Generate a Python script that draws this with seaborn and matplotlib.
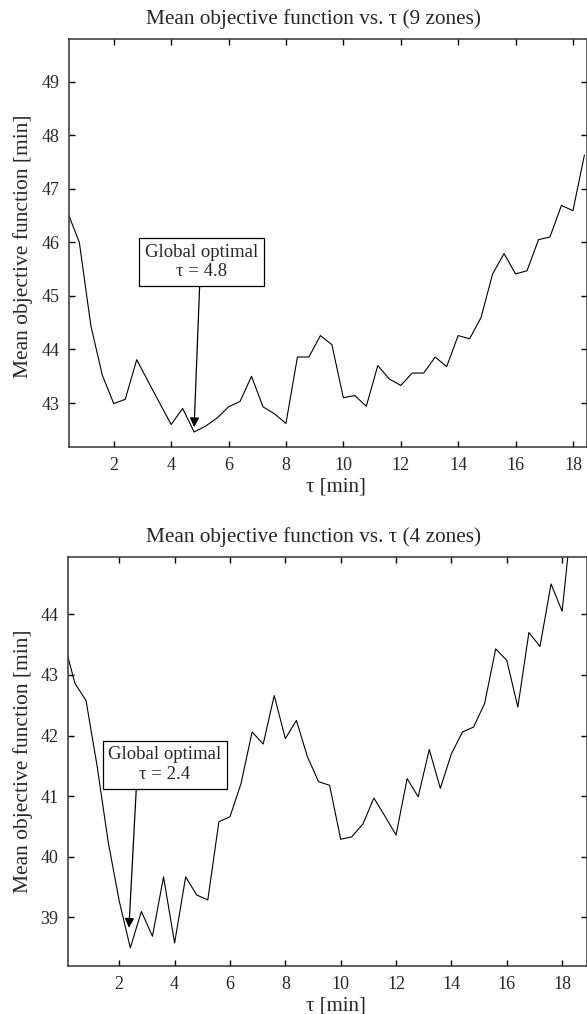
import pandas as pd
import seaborn as sns
import matplotlib.pyplot as plt

# tau grid (min) and mean objective values
tau_9 = [0.4, 0.8, 1.2, 1.6, 2.0, 2.4, 2.8, 3.2, 3.6, 4.0, 4.4, 4.8, 5.2, 5.6, 6.0, 6.4,
         6.8, 7.2, 7.6, 8.0, 8.4, 8.8, 9.2, 9.6, 10.0, 10.4, 10.8, 11.2, 11.6, 12.0, 12.4,
         12.8, 13.2, 13.6, 14.0, 14.4, 14.8, 15.2, 15.6, 16.0, 16.4, 16.8, 17.2, 17.6, 18.0, 18.4]
obj_9 = [46.55, 46.0, 44.45, 43.52, 42.99, 43.07, 43.81, 43.4, 43.0, 42.6, 42.9, 42.46,
         42.57, 42.72, 42.93, 43.03, 43.5, 42.93, 42.8, 42.62, 43.86, 43.86, 44.26, 44.09,
         43.1, 43.14, 42.94, 43.7, 43.45, 43.33, 43.56, 43.56, 43.86, 43.68, 44.26, 44.2,
         44.6, 45.41, 45.79, 45.41, 45.47, 46.05, 46.1, 46.69, 46.59, 47.63]

tau_4 = [0.0, 0.4, 0.8, 1.2, 1.6, 2.0, 2.4, 2.8, 3.2, 3.6, 4.0, 4.4, 4.8, 5.2, 5.6, 6.0,
         6.4, 6.8, 7.2, 7.6, 8.0, 8.4, 8.8, 9.2, 9.6, 10.0, 10.4, 10.8, 11.2, 11.6, 12.0,
         12.4, 12.8, 13.2, 13.6, 14.0, 14.4, 14.8, 15.2, 15.6, 16.0, 16.4, 16.8, 17.2, 17.6,
         18.0, 18.4]
obj_4 = [43.55, 42.86, 42.58, 41.5, 40.25, 39.27, 38.5, 39.1, 38.69, 39.67, 38.58, 39.67,
         39.37, 39.29, 40.58, 40.66, 41.21, 42.06, 41.86, 42.66, 41.95, 42.25, 41.65, 41.24,
         41.18, 40.29, 40.33, 40.54, 40.97, 40.67, 40.36, 41.29, 40.99, 41.77, 41.13, 41.70,
         42.06, 42.14, 42.53, 43.43, 43.24, 42.47, 43.70, 43.47, 44.50, 44.05, 45.8]

titles = ['Mean objective function vs. \u03c4 (9 zones)',
          'Mean objective function vs. \u03c4 (4 zones)']
opt_tau = [4.8, 2.4]

sns.set_style('ticks')
plt.rcParams['font.family'] = ['Liberation Serif', 'DejaVu Serif']
plt.rcParams['axes.linewidth'] = 1.1
plt.rcParams['axes.edgecolor'] = '#333333'

W, H = 587, 1014
fig = plt.figure(figsize=(W / 100, H / 100), dpi=100)
ax1 = fig.add_axes([69 / W, 1 - 447 / H, (587 - 69) / W, (447 - 39.3) / H])
ax2 = fig.add_axes([68.3 / W, 1 - 966 / H, (586.5 - 68.3) / W, (966 - 557.3) / H])

df9 = pd.DataFrame({'tau': tau_9, 'obj': obj_9})
df4 = pd.DataFrame({'tau': tau_4, 'obj': obj_4})

sns.lineplot(data=df9, x='tau', y='obj', ax=ax1, color='black', lw=0.8)
sns.lineplot(data=df4, x='tau', y='obj', ax=ax2, color='black', lw=0.8)

ax1.set_xlim(0.44, 18.49)
ax1.set_ylim(42.18, 49.79)
ax1.set_yticks([43, 44, 45, 46, 47, 48, 49])
ax2.set_xlim(0.16, 18.88)
ax2.set_ylim(38.2, 44.94)
ax2.set_yticks([39, 40, 41, 42, 43, 44])

for ax in (ax1, ax2):
    ax.set_xticks(range(2, 19, 2))
    ax.tick_params(direction='in', top=True, right=True, length=4, width=1,
                   color='black', labelsize=13, pad=7)
    ax.set_xlabel('')
    ax.set_ylabel('')
    for s in ax.spines.values():
        s.set_visible(True)

# annotation boxes and arrows (arrow drawn below the box)
box = dict(boxstyle='square,pad=0.3', fc='white', ec='black', lw=0.9)
arrow = dict(arrowstyle='-|>', color='black', lw=0.9, mutation_scale=14, shrinkA=0, shrinkB=0)
ax1.annotate('', xy=(opt_tau[0], 42.55), xytext=(5.0, 45.3), arrowprops=arrow, zorder=3)
ax1.text(5.06, 45.63, 'Global optimal\n\u03c4 = %.1f' % opt_tau[0], ha='center', va='center',
         fontsize=13.5, bbox=box, zorder=5)
ax2.annotate('', xy=(2.35, 38.83), xytext=(2.63, 41.25), arrowprops=arrow, zorder=3)
ax2.text(3.65, 41.52, 'Global optimal\n\u03c4 = %.1f' % opt_tau[1], ha='center', va='center',
         fontsize=13.5, bbox=box, zorder=5)

# titles, x labels and y labels placed in figure pixels
fig.text(313.5 / W, 1 - 18.7 / H, titles[0], ha='center', va='center', fontsize=15.3)
fig.text(313.5 / W, 1 - 536.7 / H, titles[1], ha='center', va='center', fontsize=15.3)
fig.text(336 / W, 1 - 487 / H, '\u03c4 [min]', ha='center', va='center', fontsize=15)
fig.text(336 / W, 1 - 1006 / H, '\u03c4 [min]', ha='center', va='center', fontsize=15)
fig.text(23 / W, 1 - 246 / H, 'Mean objective function [min]', ha='center', va='center',
         rotation=90, fontsize=15.5)
fig.text(23 / W, 1 - 761 / H, 'Mean objective function [min]', ha='center', va='center',
         rotation=90, fontsize=15.5)

fig.savefig('out.png', dpi=100, facecolor='white')
